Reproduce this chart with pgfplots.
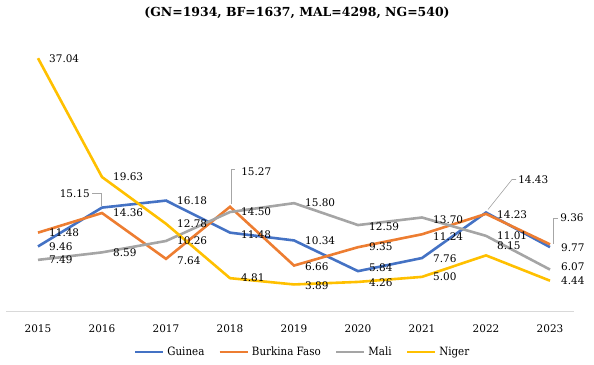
\documentclass[border=0pt]{standalone}
\usepackage{fontspec}
\setmainfont{DejaVu Serif}
\newfontfamily\condfont{DejaVu Serif}[FakeStretch=0.9]
\usepackage{pgfplots}
\pgfplotsset{compat=1.18}
\usepackage{pgfplotstable}
\definecolor{cGN}{HTML}{4472C4}
\definecolor{cBF}{HTML}{ED7D31}
\definecolor{cMAL}{HTML}{A5A5A5}
\definecolor{cNG}{HTML}{FFC000}
\definecolor{axisgray}{HTML}{D9D9D9}
\definecolor{leadergray}{HTML}{A6A6A6}
\pgfplotstableread{
year GN BF MAL NG
2015 9.46 11.48 7.49 37.04
2016 15.15 14.36 8.59 19.63
2017 16.18 7.64 10.26 12.78
2018 11.48 15.27 14.50 4.81
2019 10.34 6.66 15.80 3.89
2020 5.84 9.35 12.59 4.26
2021 7.76 11.24 13.70 5.00
2022 14.43 14.23 11.01 8.15
2023 9.36 9.77 6.07 4.44
}\data
\tikzset{lbl/.style={anchor=west, inner sep=0pt, xshift=11bp, font=\fontsize{10.5}{12}\selectfont},
  lead/.style={draw=leadergray, line width=0.6bp}}
\newcommand{\lab}[3][0]{\node[lbl, yshift=#1bp] at (axis cs:#2,#3) {#3};}
\begin{document}
\begin{tikzpicture}
\path[use as bounding box] (-6bp,-54bp) rectangle (588bp,311bp);
\begin{axis}[
  scale only axis, width=568bp, height=273bp,
  xmin=2014.5, xmax=2023.375, ymin=0, ymax=40,
  axis y line=none, axis x line=bottom,
  x axis line style={draw=axisgray, line width=0.75bp, -},
  xtick={2015,2016,2017,2018,2019,2020,2021,2022,2023},
  major tick length=0pt,
  xticklabel style={font=\fontsize{10.5}{12}\selectfont, yshift=-10bp},
  /pgf/number format/1000 sep={},
  /pgf/number format/assume math mode=true,
  clip=false,
  legend columns=-1,
  legend style={at={(0.522,-0.150)}, anchor=center, draw=none, fill=none,
    font=\condfont\fontsize{11.5}{13}\selectfont, inner sep=0pt,
    /tikz/every even column/.append style={column sep=12bp},
    /tikz/every odd column/.append style={column sep=1bp}},
  legend image code/.code={\draw[#1, line width=2.6bp] (0bp,0bp) -- (28bp,0bp);},
]
\addplot[cGN, line width=2.6bp] table[x=year,y=GN]{\data};
\addlegendentry{Guinea}
\addplot[cBF, line width=2.6bp] table[x=year,y=BF]{\data};
\addlegendentry{Burkina Faso}
\addplot[cMAL, line width=2.6bp] table[x=year,y=MAL]{\data};
\addlegendentry{Mali}
\addplot[cNG, line width=2.6bp] table[x=year,y=NG]{\data};
\addlegendentry{Niger}
\coordinate (p1) at (axis cs:2016,15.15);
\coordinate (p2) at (axis cs:2018,15.27);
\coordinate (p3) at (axis cs:2022,14.43);
\coordinate (p4) at (axis cs:2023,9.36);
% 2015
\lab{2015}{9.46}\lab{2015}{11.48}\lab{2015}{7.49}\lab{2015}{37.04}
% 2016
\lab{2016}{14.36}\lab{2016}{8.59}\lab{2016}{19.63}
% 2017
\lab{2017}{16.18}\lab[-2]{2017}{7.64}\lab{2017}{10.26}\lab{2017}{12.78}
% 2018
\lab[-2]{2018}{11.48}\lab{2018}{14.50}\lab{2018}{4.81}
% 2019
\lab{2019}{10.34}\lab[-1]{2019}{6.66}\lab{2019}{15.80}\lab[-1.5]{2019}{3.89}
% 2020
\lab[3]{2020}{5.84}\lab{2020}{9.35}\lab[-2]{2020}{12.59}\lab[-1]{2020}{4.26}
% 2021
\lab[-1]{2021}{7.76}\lab[-2]{2021}{11.24}\lab[-2]{2021}{13.70}\lab{2021}{5.00}
% 2022
\lab[-1]{2022}{14.23}\lab{2022}{11.01}\lab[10]{2022}{8.15}
% 2023
\lab[-3]{2023}{9.77}\lab[2.5]{2023}{6.07}\lab{2023}{4.44}
\end{axis}
\begin{scope}[font=\fontsize{10.5}{12}\selectfont]
\draw[lead] ([xshift=-1bp,yshift=2bp]p1) -- ([xshift=-1bp,yshift=14bp]p1) -- ([xshift=-10bp,yshift=14bp]p1) node[anchor=east, inner sep=0pt, xshift=-2bp]{15.15};
\draw[lead] ([xshift=1bp,yshift=3bp]p2) -- ([xshift=1bp,yshift=37bp]p2) -- ([xshift=5bp,yshift=37bp]p2) node[anchor=west, inner sep=0pt, xshift=6bp, yshift=-2bp]{15.27};
\draw[lead] ([xshift=2bp,yshift=3bp]p3) -- ([xshift=26bp,yshift=33bp]p3) -- ([xshift=30bp,yshift=33bp]p3) node[anchor=west, inner sep=0pt, xshift=2bp]{14.43};
\draw[lead] ([xshift=3bp,yshift=3bp]p4) -- ([xshift=3bp,yshift=29bp]p4) -- ([xshift=8bp,yshift=29bp]p4) node[anchor=west, inner sep=0pt, xshift=2bp]{9.36};
\end{scope}
\node[font=\bfseries\fontsize{12.5}{15}\selectfont] at (291bp,298bp) {(GN=1934, BF=1637, MAL=4298, NG=540)};
\end{tikzpicture}
\end{document}
